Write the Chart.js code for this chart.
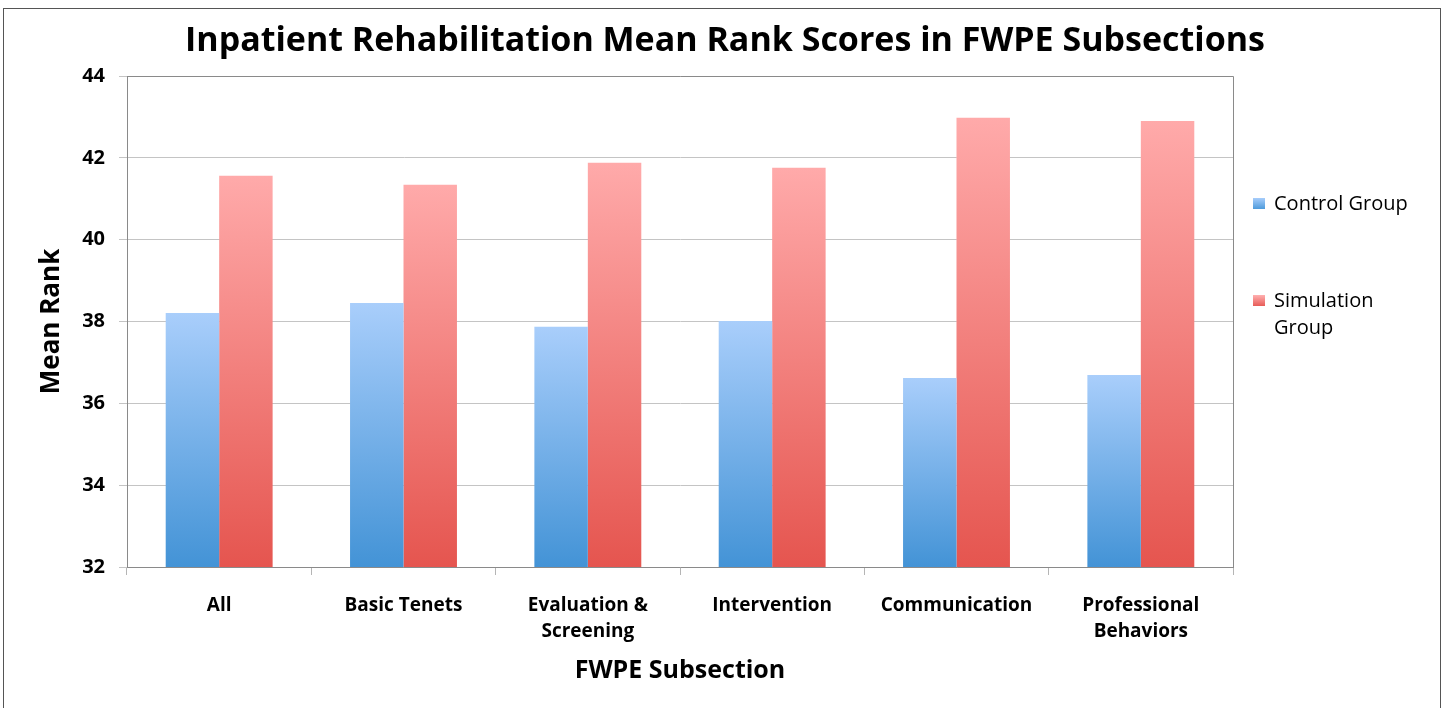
<!DOCTYPE html>
<html>
<head>
<meta charset="utf-8">
<script src="https://cdn.jsdelivr.net/npm/chart.js@4"></script>
<style>
  html, body { margin: 0; padding: 0; background: #fff; }
  #frame { position: absolute; left: 3px; top: 8px; width: 1436px; height: 720px; border: 1px solid #555; border-bottom: none; }
  #wrap { position: absolute; left: 0; top: 0; width: 1447px; height: 708px; }
</style>
</head>
<body>
<div id="frame"></div>
<div id="wrap"><canvas id="chart"></canvas></div>
<script>
// Data
const categories = ['All', 'Basic Tenets', ['Evaluation &', 'Screening'], 'Intervention', 'Communication', ['Professional', 'Behaviors']];
const controlGroup = [38.21, 38.45, 37.87, 38.01, 36.62, 36.69];
const simulationGroup = [41.56, 41.34, 41.88, 41.76, 42.98, 42.90];
const yTicks = [32, 34, 36, 38, 40, 42, 44];

const FONT = '"Open Sans", "DejaVu Sans", sans-serif';
const TITLE = 'Inpatient Rehabilitation Mean Rank Scores in FWPE Subsections';

// per-bar vertical gradient, light at the top, darker at the bottom
function barGradient(top, bottom) {
    return function(context) {
        const chart = context.chart;
        const area = chart.chartArea;
        if (!area || context.parsed == null) return bottom;
        const yTop = chart.scales.y.getPixelForValue(context.parsed.y);
        const g = chart.ctx.createLinearGradient(0, yTop, 0, area.bottom);
        g.addColorStop(0, top);
        g.addColorStop(1, bottom);
        return g;
    };
}

// plot-area frame, page-centred title and the legend on the right
const framePlugin = {
    id: 'frame',
    afterDatasetsDraw(chart) {
        const { ctx, chartArea } = chart;
        ctx.save();
        ctx.strokeStyle = '#8a8a8a';
        ctx.lineWidth = 1;
        ctx.beginPath();
        ctx.moveTo(chartArea.left + 0.5, chartArea.top + 0.5);
        ctx.lineTo(chartArea.right + 0.5, chartArea.top + 0.5);
        ctx.lineTo(chartArea.right + 0.5, chartArea.bottom);
        ctx.stroke();
        ctx.restore();
    },
    afterDraw(chart) {
        const ctx = chart.ctx;
        ctx.save();
        ctx.font = 'bold 34px ' + FONT;
        ctx.fillStyle = '#000';
        ctx.textAlign = 'center';
        ctx.textBaseline = 'middle';
        ctx.fillText(TITLE, 725, 41);

        const items = [
            { lines: ['Control Group'], top: '#a7cdfb', bottom: '#4596d8', y: 204 },
            { lines: ['Simulation', 'Group'], top: '#ffb0b0', bottom: '#e5544f', y: 301 }
        ];
        ctx.textAlign = 'left';
        ctx.font = '20px ' + FONT;
        items.forEach(it => {
            const g = ctx.createLinearGradient(0, it.y - 6, 0, it.y + 6);
            g.addColorStop(0, it.top);
            g.addColorStop(1, it.bottom);
            ctx.fillStyle = g;
            ctx.fillRect(1253, it.y - 6, 12, 11);
            ctx.fillStyle = '#000';
            it.lines.forEach((l, i) => ctx.fillText(l, 1274, it.y + i * 27));
        });
        ctx.restore();
    }
};

new Chart(document.getElementById('chart'), {
    type: 'bar',
    data: {
        labels: categories,
        datasets: [
            {
                label: 'Control Group',
                data: controlGroup,
                backgroundColor: barGradient('#a9cefb', '#4393d6'),
                borderWidth: 0,
                categoryPercentage: 0.58,
                barPercentage: 1.0
            },
            {
                label: 'Simulation Group',
                data: simulationGroup,
                backgroundColor: barGradient('#ffaaaa', '#e5554f'),
                borderWidth: 0,
                categoryPercentage: 0.58,
                barPercentage: 1.0
            }
        ]
    },
    options: {
        responsive: true,
        maintainAspectRatio: false,
        animation: false,
        layout: { padding: { left: 36, right: 214, top: 0, bottom: 0 } },
        plugins: {
            legend: { display: false },
            tooltip: { enabled: false },
            // blank title only reserves the space, the text is drawn by the plugin
            title: {
                display: true,
                text: ' ',
                font: { family: FONT, size: 30, weight: 'bold' },
                padding: { top: 22, bottom: 18 }
            }
        },
        scales: {
            x: {
                offset: true,
                grid: { display: true, drawOnChartArea: false, offset: true, tickLength: 8, color: '#b5b5b5' },
                border: { color: '#8a8a8a' },
                ticks: {
                    color: '#000',
                    padding: 17,
                    maxRotation: 0,
                    font: { family: FONT, size: 19, weight: 'bold', lineHeight: 1.4 }
                },
                title: {
                    display: true,
                    text: 'FWPE Subsection',
                    color: '#000',
                    font: { family: FONT, size: 25, weight: 'bold' },
                    padding: { top: 10, bottom: 22 }
                },
                afterFit(scale) { scale.height = 141; }
            },
            y: {
                min: 32,
                max: 44,
                afterBuildTicks(scale) { scale.ticks = yTicks.map(v => ({ value: v })); },
                grid: { color: '#c4c4c4', tickLength: 8 },
                border: { color: '#8a8a8a' },
                ticks: {
                    color: '#000',
                    padding: 14,
                    font: { family: FONT, size: 20, weight: 'bold' }
                },
                title: {
                    display: true,
                    text: 'Mean Rank',
                    color: '#000',
                    font: { family: FONT, size: 26, weight: 'bold' },
                    padding: { top: 0, bottom: 4 }
                },
                afterFit(scale) { scale.width = 91; }
            }
        }
    },
    plugins: [framePlugin]
});
</script>
</body>
</html>
